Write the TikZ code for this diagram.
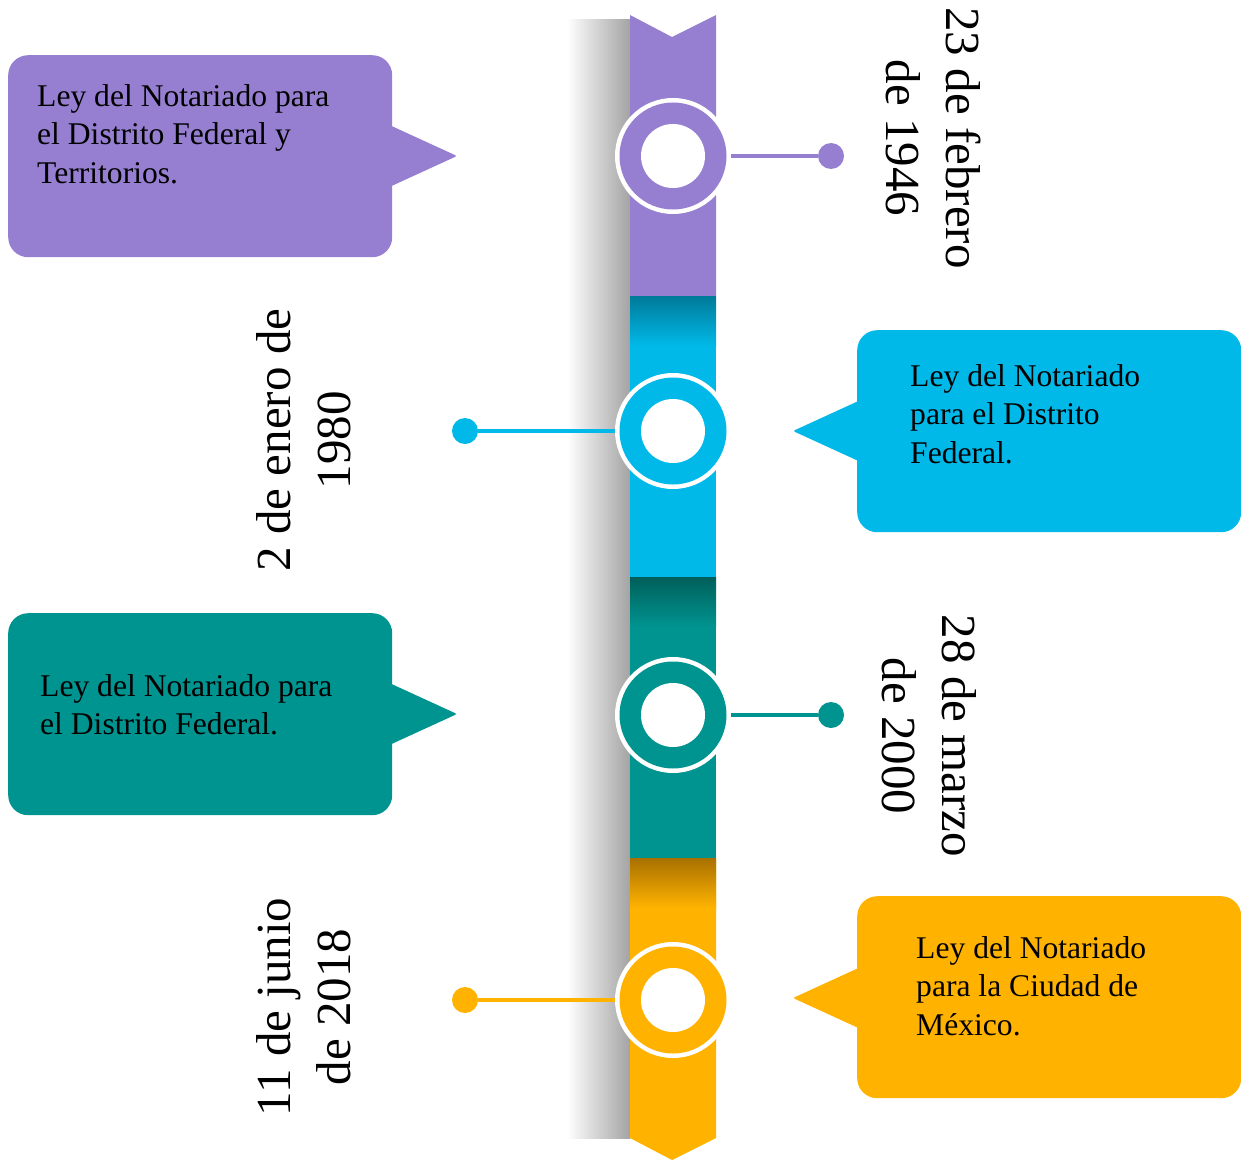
\documentclass[tikz,border=0pt]{standalone}
\usepackage{fontspec}
\setmainfont{Liberation Serif}
\definecolor{lila}{RGB}{150,127,209}
\definecolor{celeste}{RGB}{0,185,232}
\definecolor{celesteosc}{RGB}{0,122,153}
\definecolor{verde}{RGB}{0,148,144}
\definecolor{verdeosc}{RGB}{0,95,90}
\definecolor{ambar}{RGB}{255,179,0}
\definecolor{ambarosc}{RGB}{168,112,0}
\begin{document}
\begin{tikzpicture}[x=1pt,y=-1pt,
  callout/.style={fill=#1, rounded corners=20pt, inner sep=0pt, anchor=north west,
    minimum width=384pt, minimum height=202pt},
  boxtext/.style={anchor=north west, inner sep=0pt, align=left,
    font=\fontsize{31.6}{38.5}\selectfont},
  datetxt/.style={align=center, inner sep=0pt, font=\fontsize{49}{60}\selectfont},
  halo/.style={circle, fill=white, inner sep=0pt, minimum size=116pt},
  ring/.style={circle, fill=#1, inner sep=0pt, minimum size=107pt},
  hole/.style={circle, fill=white, inner sep=0pt, minimum size=64pt},
  dot/.style={circle, fill=#1, inner sep=0pt, minimum size=26pt},
  conn/.style={draw=#1, line width=3.5pt},
  pointer/.style={fill=#1, rounded corners=2pt}
]
\useasboundingbox (0,0) rectangle (1241,1161);

% shadow behind the ribbon
\shade[left color=white, middle color=black!7, right color=black!36] (567,20) rectangle (630,1138);

% ribbon segments
\fill[lila] (630,15) -- (672,37) -- (716,15) -- (716,296) -- (630,296) -- cycle;
\fill[celeste] (630,296) rectangle (716,577);
\shade[top color=celesteosc, bottom color=celeste] (630,296) rectangle (716,346);
\fill[verde] (630,577) rectangle (716,858);
\shade[top color=verdeosc, bottom color=verde] (630,577) rectangle (716,627);
\fill[ambar] (630,858) -- (716,858) -- (716,1138) -- (672,1160) -- (630,1138) -- cycle;
\shade[top color=ambarosc, bottom color=ambar] (630,858) rectangle (716,908);

% milestones on the ribbon
\node[halo] (c1) at (673,156) {};
\node[ring=lila] at (673,156) {};
\node[hole] at (673,156) {};
\node[halo] (c2) at (673,431) {};
\node[ring=celeste] at (673,431) {};
\node[hole] at (673,431) {};
\node[halo] (c3) at (673,715) {};
\node[ring=verde] at (673,715) {};
\node[hole] at (673,715) {};
\node[halo] (c4) at (673,1000) {};
\node[ring=ambar] at (673,1000) {};
\node[hole] at (673,1000) {};

% leader dots and lines
\node[dot=lila] (d1) at (831,156) {};
\node[dot=celeste] (d2) at (465,431) {};
\node[dot=verde] (d3) at (831,715) {};
\node[dot=ambar] (d4) at (465,1000) {};
\draw[conn=lila] (c1) -- (d1);
\draw[conn=celeste] (c2) -- (d2);
\draw[conn=verde] (c3) -- (d3);
\draw[conn=ambar] (c4) -- (d4);

% callouts
\fill[pointer=lila] (385,123) -- (457,156) -- (385,189) -- cycle;
\node[callout=lila] (b1) at (8,55) {};
\node[boxtext] (t1) at (37,84) {Ley del Notariado para\\el Distrito Federal y\\Territorios.};

\fill[pointer=celeste] (865,398) -- (793,431) -- (865,464) -- cycle;
\node[callout=celeste] (b2) at (857,330) {};
\node[boxtext] (t2) at (910,364) {Ley del Notariado\\para el Distrito\\Federal.};

\fill[pointer=verde] (385,681) -- (457,714) -- (385,747) -- cycle;
\node[callout=verde] (b3) at (8,613) {};
\node[boxtext] (t3) at (40,674) {Ley del Notariado para\\el Distrito Federal.};

\fill[pointer=ambar] (865,965) -- (793,998) -- (865,1031) -- cycle;
\node[callout=ambar] (b4) at (857,896) {};
\node[boxtext] (t4) at (916,936) {Ley del Notariado\\para la Ciudad de\\México.};

% dates
\node[datetxt, rotate=-90] (f1) at (933,138) {23 de febrero\\de 1946};
\node[datetxt, rotate=90] (f2) at (304,440) {2 de enero de\\1980};
\node[datetxt, rotate=-90] (f3) at (929,736) {28 de marzo\\de 2000};
\node[datetxt, rotate=90] (f4) at (304,1007) {11 de junio\\de 2018};
\end{tikzpicture}
\end{document}
